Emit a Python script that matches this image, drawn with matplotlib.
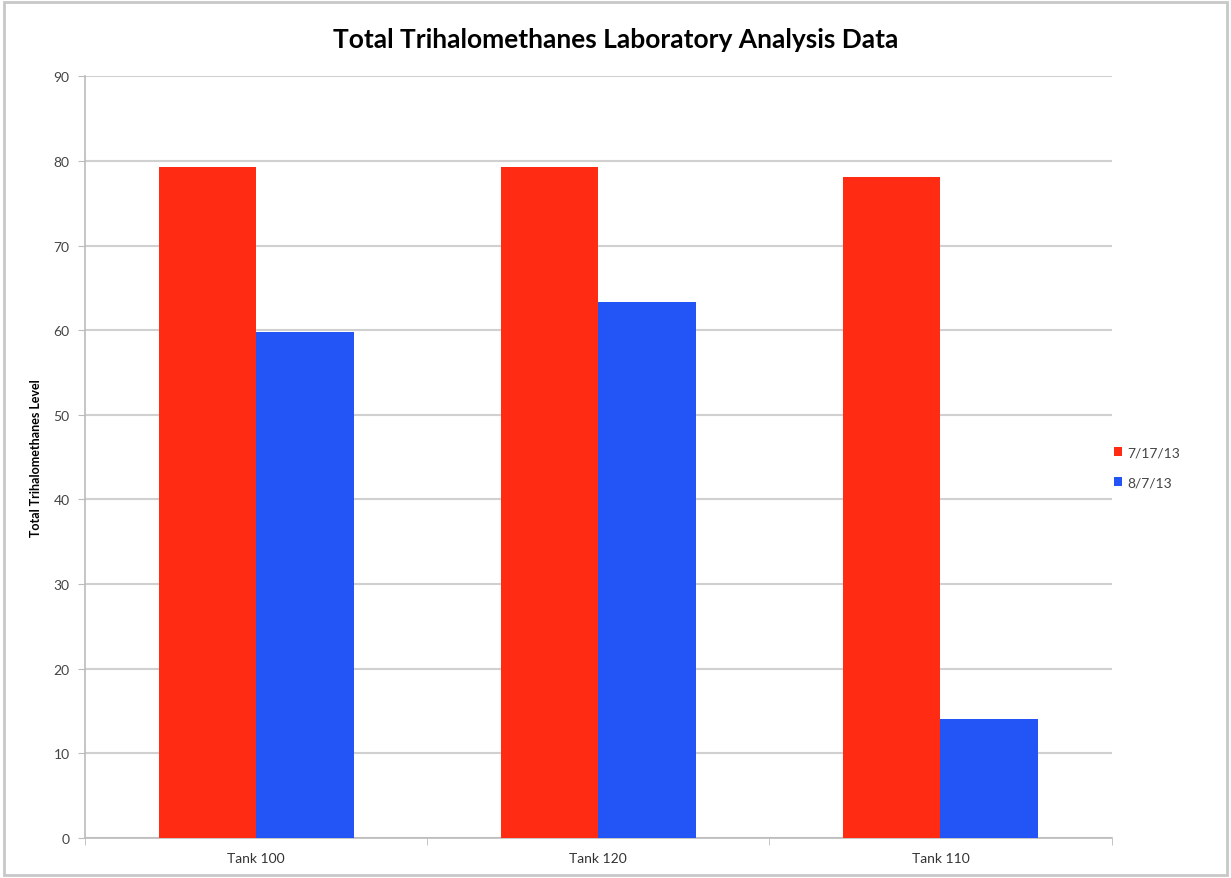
import matplotlib.pyplot as plt
import numpy as np
from matplotlib.patches import Rectangle

categories = ["Tank 100", "Tank 120", "Tank 110"]
series_labels = ["7/17/13", "8/7/13"]
vals_jul = [79.3, 79.3, 78.1]
vals_aug = [59.8, 63.3, 14.1]
colors = ["#FF2B12", "#2355F6"]

plt.rcParams["font.family"] = ["Lato", "DejaVu Sans"]

fig = plt.figure(figsize=(12.31, 8.79), dpi=100)
ax = fig.add_axes([0.069, 0.0455, 0.834, 0.8665])

x = np.arange(len(categories))
width = 0.285
ax.bar(x - width / 2, vals_jul, width, color=colors[0], label=series_labels[0], zorder=3)
ax.bar(x + width / 2, vals_aug, width, color=colors[1], label=series_labels[1], zorder=3)

ax.set_xlim(-0.5, len(categories) - 0.5)
ax.set_ylim(0, 90)
ax.set_yticks(range(0, 91, 10))
ax.yaxis.grid(True, color="#D0D0D0", linewidth=1.5, zorder=0)
ax.set_axisbelow(True)

# category labels centered, tick marks at boundaries
ax.set_xticks(x)
ax.set_xticklabels(categories, fontsize=10, color="#333333")
ax.tick_params(axis="x", length=0, pad=10)
ax.set_xticks(np.arange(-0.5, len(categories), 1.0), minor=True)
ax.tick_params(axis="x", which="minor", length=5, color="#BBBBBB", direction="out")
ax.tick_params(axis="y", labelsize=10, labelcolor="#444444", length=5, color="#BBBBBB", pad=6)

for s in ["top", "right"]:
    ax.spines[s].set_visible(False)
for s in ["left", "bottom"]:
    ax.spines[s].set_color("#BBBBBB")
    ax.spines[s].set_linewidth(1.2)

ax.set_ylabel("Total Trihalomethanes Level", fontsize=9, fontweight="bold", labelpad=8)
fig.suptitle("Total Trihalomethanes Laboratory Analysis Data", fontsize=19, fontweight="bold",
             y=0.968)

leg = ax.legend(loc="center left", bbox_to_anchor=(0.99, 0.487), frameon=False, fontsize=10,
                handlelength=0.6, handleheight=0.6, handletextpad=0.4, labelspacing=1.3)
for t in leg.get_texts():
    t.set_color("#444444")

fig.patches.append(Rectangle((0.003, 0.003), 0.994, 0.994, transform=fig.transFigure,
                             fill=False, edgecolor="#C8C8C8", linewidth=2))

fig.savefig("out.png", dpi=100)
